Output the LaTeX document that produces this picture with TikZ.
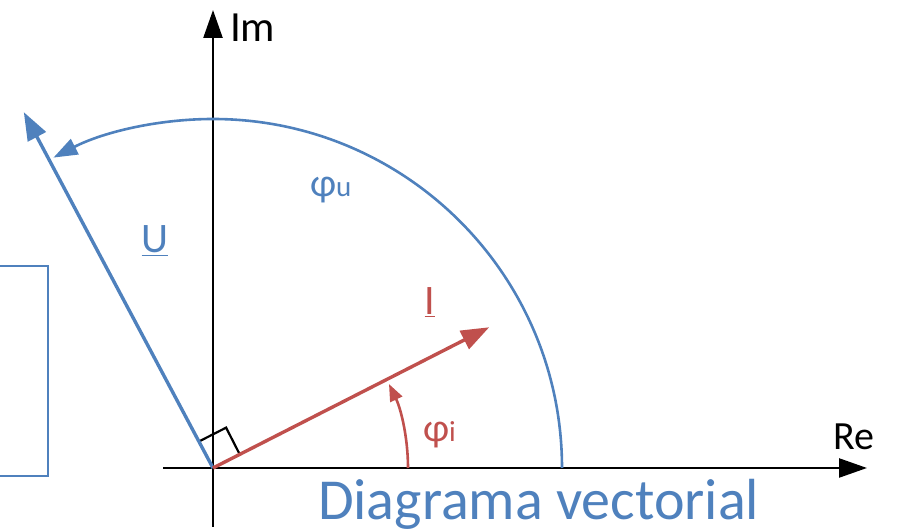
\documentclass[tikz,border=0pt]{standalone}
\usepackage{fontspec}
\setmainfont{Carlito}
\usetikzlibrary{arrows.meta}
\definecolor{ublue}{HTML}{4F81BD}
\definecolor{ired}{HTML}{C0504D}
\newcommand{\ulbar}[1]{\underline{#1}}
\begin{document}
\begin{tikzpicture}[x=1pt,y=1pt,
  axis/.style={line width=2.4pt,-{Triangle[length=28pt,width=19pt]}},
  uvec/.style={ublue,line width=3.4pt,-{Triangle[length=28pt,width=20pt]}},
  ivec/.style={ired,line width=3.4pt,-{Triangle[length=28pt,width=20pt]}},
  uarc/.style={ublue,line width=2.6pt,-{Triangle[length=24pt,width=17pt]}},
  iarc/.style={ired,line width=2.6pt,-{Triangle[length=17pt,width=13pt]}},
  lbl/.style={inner sep=0pt,outer sep=0pt}]
\useasboundingbox (0,0) rectangle (897,532);
% frame at left
\draw[ublue,line width=2pt] (-2,266) -- (48,266) -- (48,56) -- (-2,56);
\coordinate (O) at (213,64);
\coordinate (ReS) at (163,64);
\coordinate (ReE) at (867,64);
\coordinate (ImS) at (213,5);
\coordinate (ImE) at (213,522);
% right angle mark
\path (O) ++(27:30) coordinate (ra1) ++(117:30) coordinate (ra2) ++(207:30) coordinate (ra3);
\draw[line width=2.2pt] (ra1) -- (ra2) -- (ra3);
% axes
\draw[axis] (ReS) -- (ReE);
\draw[axis] (ImS) -- (ImE);
% arcs
\draw[uarc] (O) ++(0:349) arc[start angle=0,end angle=117.2,radius=349];
\draw[iarc] (O) ++(0:195) arc[start angle=0,end angle=25.5,radius=195];
% vectors
\path (O) ++(118:403) coordinate (Ut);
\path (O) ++(27:310) coordinate (It);
\draw[uvec] (O) -- (Ut);
\draw[ivec] (O) -- (It);
% labels
\node[lbl,anchor=base west,font=\fontsize{43}{43}\selectfont] (im) at (230,490) {Im};
\node[lbl,anchor=base west,font=\fontsize{40}{40}\selectfont] (re) at (833,82) {Re};
\node[lbl,anchor=base,text=ublue,font=\fontsize{42}{42}\selectfont] (ul) at (155,279) {\ulbar{U}};
\node[lbl,anchor=base,text=ired,font=\fontsize{42}{42}\selectfont] (il) at (430,217) {\ulbar{I}};
\node[lbl,anchor=base west,text=ublue,font=\fontsize{40}{40}\selectfont] (phu) at (310,335) {φ\fontsize{29}{29}\selectfont u};
\node[lbl,anchor=base west,text=ired,font=\fontsize{40}{40}\selectfont] (phi) at (423,90) {φ\fontsize{29}{29}\selectfont i};
\node[lbl,anchor=base west,text=ublue,font=\fontsize{58}{58}\selectfont] (dv) at (318,12) {Diagrama vectorial};
\end{tikzpicture}
\end{document}
